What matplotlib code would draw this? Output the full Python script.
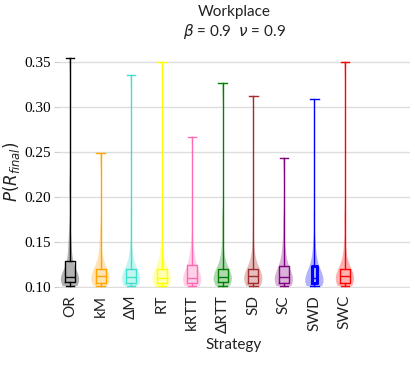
import numpy as np
import matplotlib
matplotlib.use("Agg")
from matplotlib import pyplot as plt

plt.rcParams['font.family'] = ['Lato', 'DejaVu Sans']
plt.rcParams['mathtext.fontset'] = 'dejavusans'

strategies = ['OR', 'kM', 'ΔM', 'RT', 'kRTT', 'ΔRTT', 'SD', 'SC', 'SWD', 'SWC']
colors = ['#000000', '#FFA500', '#40E0D0', '#FFFF00', '#FF69B4',
          '#008000', '#A52A2A', '#800080', '#0000FF', '#FF0000']

# estimated samples of P(R_final) per strategy (read off the violins / boxes)
p_or = [0.101, 0.102, 0.103, 0.104, 0.104, 0.105, 0.106, 0.107, 0.108, 0.109, 0.110, 0.110, 0.111,
        0.112, 0.113, 0.115, 0.118, 0.123, 0.129, 0.134, 0.141, 0.150, 0.162, 0.210, 0.355]
p_km = [0.101, 0.102, 0.103, 0.103, 0.104, 0.105, 0.105, 0.106, 0.107, 0.108, 0.110, 0.111, 0.112,
        0.113, 0.114, 0.115, 0.117, 0.118, 0.120, 0.123, 0.127, 0.133, 0.142, 0.155, 0.249]
p_dm = [0.101, 0.102, 0.103, 0.103, 0.104, 0.104, 0.105, 0.106, 0.107, 0.108, 0.109, 0.110, 0.111,
        0.112, 0.113, 0.115, 0.116, 0.118, 0.120, 0.123, 0.128, 0.135, 0.145, 0.170, 0.336]
p_rt = [0.101, 0.102, 0.102, 0.103, 0.104, 0.104, 0.105, 0.106, 0.107, 0.108, 0.109, 0.109, 0.110,
        0.112, 0.113, 0.115, 0.116, 0.118, 0.120, 0.124, 0.129, 0.136, 0.146, 0.175, 0.350]
p_krtt = [0.101, 0.102, 0.103, 0.103, 0.104, 0.104, 0.105, 0.106, 0.107, 0.108, 0.109, 0.109, 0.110,
          0.112, 0.114, 0.116, 0.119, 0.122, 0.125, 0.129, 0.134, 0.140, 0.150, 0.180, 0.267]
p_drtt = [0.101, 0.102, 0.103, 0.104, 0.104, 0.105, 0.106, 0.107, 0.108, 0.109, 0.110, 0.110, 0.111,
          0.112, 0.113, 0.115, 0.116, 0.118, 0.120, 0.123, 0.128, 0.135, 0.146, 0.172, 0.327]
p_sd = [0.101, 0.102, 0.103, 0.103, 0.104, 0.104, 0.105, 0.106, 0.107, 0.108, 0.110, 0.111, 0.112,
        0.113, 0.114, 0.115, 0.117, 0.118, 0.120, 0.124, 0.129, 0.136, 0.147, 0.170, 0.313]
p_sc = [0.101, 0.102, 0.103, 0.103, 0.104, 0.104, 0.105, 0.106, 0.107, 0.108, 0.109, 0.110, 0.111,
        0.112, 0.114, 0.116, 0.118, 0.121, 0.124, 0.128, 0.133, 0.140, 0.150, 0.170, 0.244]
p_swd = [0.101, 0.102, 0.102, 0.103, 0.103, 0.104, 0.104, 0.105, 0.106, 0.107, 0.108, 0.109, 0.110,
         0.111, 0.113, 0.115, 0.118, 0.121, 0.124, 0.128, 0.134, 0.142, 0.154, 0.180, 0.309]
p_swc = [0.101, 0.102, 0.103, 0.103, 0.104, 0.104, 0.105, 0.106, 0.107, 0.108, 0.110, 0.111, 0.112,
         0.113, 0.114, 0.115, 0.117, 0.118, 0.120, 0.124, 0.129, 0.136, 0.147, 0.175, 0.350]
samples = [p_or, p_km, p_dm, p_rt, p_krtt, p_drtt, p_sd, p_sc, p_swd, p_swc]
yticks = [0.10, 0.15, 0.20, 0.25, 0.30, 0.35]

fig = plt.figure(figsize=(4.15, 3.65), dpi=100)
ax = fig.add_axes([0.14, 0.211, 0.848, 0.638])

for i, (d, c) in enumerate(zip(samples, colors)):
    d = np.array(d)
    vp = ax.violinplot([d], positions=[i], widths=0.6, showextrema=False,
                       bw_method=0.0095 / d.std())
    for b in vp['bodies']:
        b.set_facecolor(c)
        b.set_edgecolor('none')
        b.set_alpha(0.3)
    bw = 0.14 if strategies[i] == 'SWD' else 0.33
    lw = 2.2 if strategies[i] == 'SWD' else 1.0
    ax.boxplot([d], positions=[i], widths=bw, whis=(0, 100), showfliers=False,
               capwidths=0.28,
               boxprops=dict(color=c, linewidth=lw),
               medianprops=dict(color=c, linewidth=1.0),
               whiskerprops=dict(color=c, linewidth=1.0),
               capprops=dict(color=c, linewidth=1.0))

ax.set_xlim(-0.39, 11.13)
ax.set_ylim(0.099, 0.358)
ax.set_yticks(yticks)
ax.set_yticklabels(['%.2f' % v for v in yticks], family='Liberation Serif', fontsize=11)
ax.set_xticks(range(len(strategies)))
ax.set_xticklabels(strategies, rotation=90, fontsize=11, color='#222222')
ax.tick_params(axis='x', length=0, pad=5)
ax.tick_params(axis='y', length=3, color='#cccccc', pad=2)
ax.grid(axis='y', color='#dddddd', linewidth=1)
ax.set_axisbelow(True)
for s in ax.spines.values():
    s.set_visible(False)

ax.set_ylabel(r'$P(R_{final})$', fontsize=12, color='#222222', labelpad=2)
ax.set_xlabel('Strategy', fontsize=11, color='#222222')
ax.set_title('Workplace\n' + r'$\beta$ = 0.9  $\nu$ = 0.9', fontsize=11, color='#222222', pad=14)

fig.savefig('out.png', dpi=100)
